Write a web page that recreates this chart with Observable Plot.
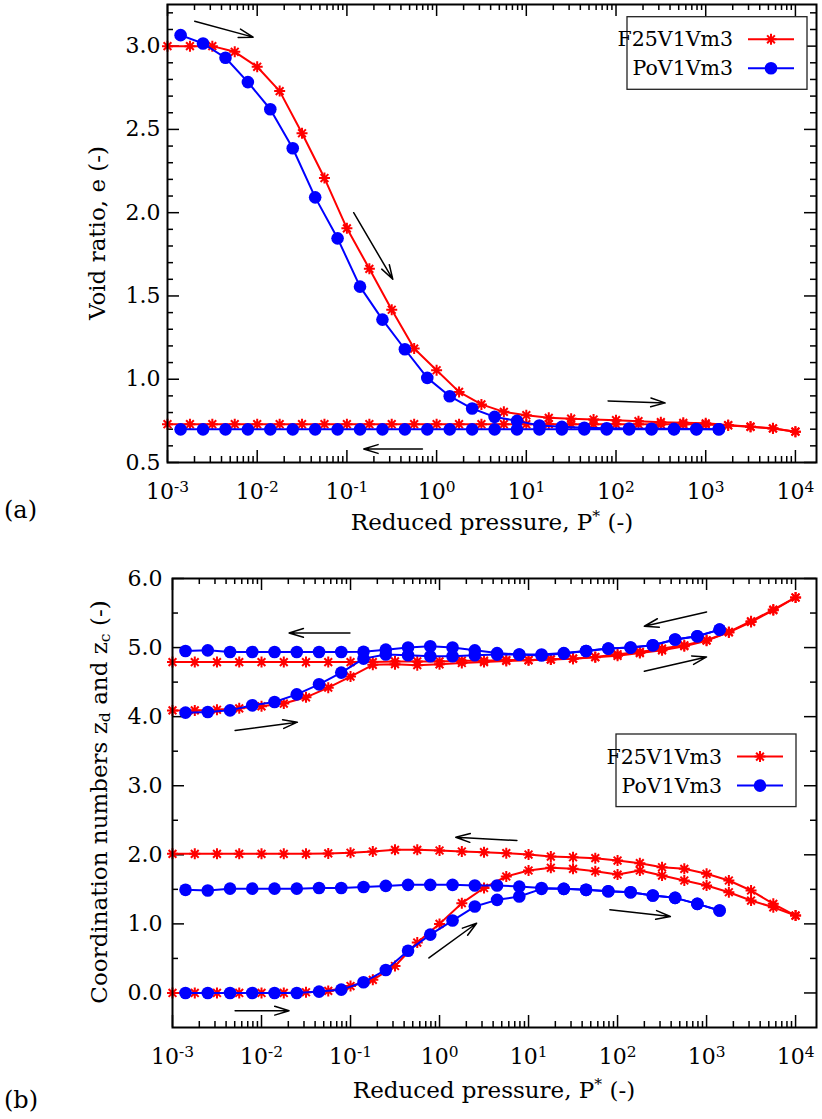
<!DOCTYPE html>
<html>
<head>
<meta charset="utf-8">
<script src="https://cdn.jsdelivr.net/npm/d3@7"></script>
<script src="https://cdn.jsdelivr.net/npm/@observablehq/plot@0.6"></script>
<style>
  body { margin: 0; background: #fff; }
  #root { position: relative; width: 822px; height: 1119px; font-family: "DejaVu Serif", serif; color: #000; overflow: hidden; }
  #root svg { position: absolute; left: 0; }
  .lbl { position: absolute; white-space: nowrap; font-size: 23px; line-height: 1; transform: translate(-50%, -50%); }
  .rot { transform: translate(-50%, -50%) rotate(-90deg); }
  .lbl sup { font-size: 0.68em; vertical-align: 0.55em; line-height: 0; }
  .lbl sub { font-size: 0.68em; vertical-align: -0.25em; line-height: 0; }
  .tag { position: absolute; font-size: 24px; line-height: 1; transform: translate(0, -50%); }
</style>
</head>
<body>
<div id="root"></div>
<script>
// ---------------- data ----------------
// reduced pressure P* of the two runs
const pressureF25 = [0.001, 0.00178, 0.00316, 0.00562, 0.01, 0.0178, 0.0316, 0.0562, 0.1, 0.178, 0.316, 0.562, 1, 1.78, 3.16, 5.62, 10, 17.8, 31.6, 56.2, 100, 178, 316, 562, 1000, 1780, 3160, 5620, 10000];
const pressurePo  = [0.0014, 0.00249, 0.00443, 0.00787, 0.014, 0.0249, 0.0443, 0.0787, 0.14, 0.249, 0.443, 0.787, 1.4, 2.49, 4.43, 7.87, 14, 24.9, 44.3, 78.7, 140, 249, 443, 787, 1400];

// (a) void ratio e, loading and unloading branches
const voidF25Load   = [3.00, 3.00, 3.00, 2.966, 2.876, 2.73, 2.477, 2.208, 1.906, 1.663, 1.417, 1.184, 1.054, 0.924, 0.849, 0.804, 0.784, 0.768, 0.763, 0.758, 0.754, 0.748, 0.742, 0.738, 0.735, 0.725, 0.715, 0.705, 0.685];
const voidF25Unload = [0.730, 0.730, 0.730, 0.730, 0.730, 0.730, 0.730, 0.730, 0.730, 0.730, 0.730, 0.730, 0.730, 0.730, 0.730, 0.730, 0.730, 0.730, 0.730, 0.730, 0.730, 0.730, 0.729, 0.729, 0.728, 0.722, 0.714, 0.704, 0.685];
const voidPoLoad    = [3.066, 3.016, 2.93, 2.784, 2.621, 2.387, 2.092, 1.846, 1.556, 1.358, 1.18, 1.008, 0.898, 0.824, 0.774, 0.750, 0.722, 0.714, 0.709, 0.706, 0.704, 0.703, 0.702, 0.701, 0.700];
const voidPoUnload  = [0.699, 0.699, 0.699, 0.699, 0.699, 0.699, 0.699, 0.699, 0.699, 0.699, 0.699, 0.699, 0.699, 0.699, 0.699, 0.699, 0.699, 0.699, 0.699, 0.699, 0.699, 0.699, 0.699, 0.699, 0.700];

// (b) coordination numbers z_d (upper) and z_c (lower)
const zdF25Load   = [4.09, 4.09, 4.10, 4.12, 4.15, 4.19, 4.28, 4.42, 4.58, 4.75, 4.76, 4.745, 4.758, 4.777, 4.79, 4.806, 4.816, 4.826, 4.84, 4.864, 4.903, 4.937, 4.986, 5.033, 5.106, 5.226, 5.381, 5.55, 5.725];
const zdF25Unload = [4.79, 4.79, 4.79, 4.79, 4.79, 4.79, 4.79, 4.79, 4.79, 4.79, 4.80, 4.80, 4.80, 4.81, 4.81, 4.82, 4.82, 4.83, 4.84, 4.86, 4.88, 4.92, 4.96, 5.02, 5.10, 5.22, 5.37, 5.54, 5.725];
const zdPoLoad    = [4.058, 4.068, 4.091, 4.164, 4.212, 4.323, 4.468, 4.638, 4.84, 4.90, 4.888, 4.874, 4.874, 4.888, 4.898, 4.898, 4.885, 4.913, 4.951, 4.985, 5.0, 5.033, 5.116, 5.164, 5.26];
const zdPoUnload  = [4.951, 4.96, 4.937, 4.937, 4.937, 4.937, 4.937, 4.937, 4.94, 4.97, 5.0, 5.02, 5.0, 4.96, 4.92, 4.90, 4.90, 4.92, 4.95, 4.985, 5.0, 5.033, 5.116, 5.164, 5.26];
const zcF25Load   = [0, 0, 0, 0, 0, 0, 0.01, 0.03, 0.10, 0.19, 0.39, 0.73, 1.0, 1.30, 1.52, 1.686, 1.773, 1.812, 1.797, 1.762, 1.714, 1.773, 1.70, 1.628, 1.555, 1.458, 1.338, 1.24, 1.12];
const zcF25Unload = [2.014, 2.014, 2.014, 2.014, 2.014, 2.014, 2.014, 2.02, 2.03, 2.048, 2.072, 2.072, 2.062, 2.048, 2.038, 2.023, 2.004, 1.975, 1.965, 1.951, 1.917, 1.879, 1.82, 1.797, 1.725, 1.628, 1.483, 1.29, 1.12];
const zcPoLoad    = [0, 0, 0, 0, 0, 0, 0.02, 0.048, 0.154, 0.333, 0.61, 0.845, 1.048, 1.251, 1.348, 1.396, 1.507, 1.507, 1.493, 1.473, 1.458, 1.41, 1.377, 1.29, 1.193];
const zcPoUnload  = [1.493, 1.483, 1.51, 1.51, 1.51, 1.51, 1.52, 1.52, 1.533, 1.55, 1.565, 1.565, 1.565, 1.556, 1.556, 1.54, 1.52, 1.507, 1.493, 1.473, 1.458, 1.41, 1.377, 1.29, 1.193];

// series names and colours
const seriesNames = ["F25V1Vm3", "PoV1Vm3"];
const seriesColors = ["#ff0000", "#0000ff"];

// axis ticks
const xDecades = [1e-3, 1e-2, 1e-1, 1, 10, 100, 1000, 10000];
const xMinorMult = [2, 3, 4, 5, 6, 7, 8, 9];
const yTicksA = [0.5, 1.0, 1.5, 2.0, 2.5, 3.0];
const yTicksB = [0, 1, 2, 3, 4, 5, 6];

// direction arrows (data units)
const arrowsA = [
  {x1: 0.00201, y1: 3.15, x2: 0.00901, y2: 3.054},
  {x1: 0.119, y1: 2.0, x2: 0.325, y2: 1.60},
  {x1: 81.5, y1: 0.870, x2: 353, y2: 0.858},
  {x1: 0.695, y1: 0.581, x2: 0.154, y2: 0.581}
];
const arrowsB = [
  {x1: 0.0985, y1: 5.212, x2: 0.0204, y2: 5.212},
  {x1: 0.00505, y1: 3.80, x2: 0.0253, y2: 3.92},
  {x1: 1000, y1: 5.516, x2: 200, y2: 5.309},
  {x1: 200, y1: 4.657, x2: 1000, y2: 4.864},
  {x1: 7.4, y1: 2.207, x2: 1.52, y2: 2.255},
  {x1: 82, y1: 1.203, x2: 392, y2: 1.106},
  {x1: 0.76, y1: 0.507, x2: 2.61, y2: 1.009},
  {x1: 0.00505, y1: -0.257, x2: 0.0204, y2: -0.257}
];

// ---------------- helpers ----------------
const W = 822;
const xMax = Math.pow(10, 4.235);
const fmtPow = d => "10^" + Math.round(Math.log10(d));
const xMinor = xDecades.slice(0, -1).flatMap(d => xMinorMult.map(m => d * m)).filter(v => v < xMax);

// 8-spoke asterisk (gnuplot-like point type 3)
const asterisk8 = {
  draw(ctx, size) {
    const r = Math.sqrt(size / Math.PI);
    const q = r * Math.SQRT1_2;
    ctx.moveTo(-r, 0); ctx.lineTo(r, 0);
    ctx.moveTo(0, -r); ctx.lineTo(0, r);
    ctx.moveTo(-q, -q); ctx.lineTo(q, q);
    ctx.moveTo(-q, q); ctx.lineTo(q, -q);
  }
};

function rows(p, v, branch) { return p.map((x, i) => ({p: x, v: v[i], branch})); }

function panel(o) {
  const {height, marginTop, marginBottom, marginLeft, yDomain, yMajor, yMinor, red, blue, arrows, yPad} = o;
  const marginRight = 6;
  const plotH = height - marginTop - marginBottom;
  const plotW = W - marginLeft - marginRight;
  const tick = {stroke: "black", strokeWidth: 1.5};
  const svg = Plot.plot({
    width: W, height, marginTop, marginBottom, marginLeft, marginRight,
    style: {fontFamily: "DejaVu Serif", fontSize: "22px", color: "black", background: "white", overflow: "visible"},
    x: {type: "log", domain: [1e-3, xMax], label: null},
    y: {domain: yDomain, label: null},
    marks: [
      Plot.ruleX(xDecades, {...tick, insetTop: plotH - 12}),
      Plot.ruleX(xDecades, {...tick, insetBottom: plotH - 12}),
      Plot.ruleX(xMinor, {...tick, insetTop: plotH - 6}),
      Plot.ruleX(xMinor, {...tick, insetBottom: plotH - 6}),
      Plot.ruleY(yMajor, {...tick, insetRight: plotW - 12}),
      Plot.ruleY(yMajor, {...tick, insetLeft: plotW - 12}),
      Plot.ruleY(yMinor, {...tick, insetRight: plotW - 6}),
      Plot.ruleY(yMinor, {...tick, insetLeft: plotW - 6}),
      Plot.axisX({ticks: xDecades, tickFormat: fmtPow, tickSize: 0, tickPadding: 21, label: null, fontSize: 22}),
      Plot.axisY({ticks: yMajor, tickFormat: d3.format(".1f"), tickSize: 0, tickPadding: yPad, label: null, fontSize: 22}),
      Plot.line(red, {x: "p", y: "v", z: "branch", stroke: seriesColors[0], strokeWidth: 2, strokeLinejoin: "round"}),
      Plot.dot(red, {x: "p", y: "v", symbol: asterisk8, r: 5.5, stroke: seriesColors[0], strokeWidth: 2, fill: "none"}),
      Plot.line(blue, {x: "p", y: "v", z: "branch", stroke: seriesColors[1], strokeWidth: 2, strokeLinejoin: "round"}),
      Plot.dot(blue, {x: "p", y: "v", r: 6.3, fill: seriesColors[1], stroke: "none"}),
      Plot.arrow(arrows, {x1: "x1", y1: "y1", x2: "x2", y2: "y2", stroke: "black", strokeWidth: 1.5, headLength: 15, headAngle: 34}),
      Plot.frame({stroke: "black", strokeWidth: 2})
    ]
  });
  // turn "10^k" tick labels into 10 with a superscript exponent
  d3.select(svg).selectAll('g[aria-label="x-axis tick label"] text').each(function () {
    const t = this.textContent;
    if (t.indexOf("^") < 0) return;
    const [base, exp] = t.split("^");
    const sel = d3.select(this);
    sel.text(null);
    sel.append("tspan").text(base);
    sel.append("tspan").attr("dy", "-0.48em").attr("font-size", "0.7em").text(exp.replace("-", "-"));
  });
  return svg;
}

function addLegend(svg, bx, by) {
  const g = d3.select(svg).append("g").attr("font-family", "DejaVu Serif").attr("font-size", 20.5);
  g.append("rect").attr("x", bx).attr("y", by).attr("width", 180).attr("height", 72.6)
    .attr("fill", "white").attr("stroke", "#222").attr("stroke-width", 1.3);
  seriesNames.forEach((name, i) => {
    const cy = by + 22.6 + i * 29;
    g.append("text").attr("x", bx + 106).attr("y", cy).attr("dy", "0.35em").attr("text-anchor", "end").text(name);
    g.append("line").attr("x1", bx + 121).attr("x2", bx + 167).attr("y1", cy).attr("y2", cy)
      .attr("stroke", seriesColors[i]).attr("stroke-width", 2);
    if (i === 0) {
      const p = d3.path(); asterisk8.draw(p, Math.PI * 5.5 * 5.5);
      g.append("path").attr("d", p.toString()).attr("transform", `translate(${bx + 144},${cy})`)
        .attr("stroke", seriesColors[0]).attr("stroke-width", 2).attr("fill", "none");
    } else {
      g.append("circle").attr("cx", bx + 144).attr("cy", cy).attr("r", 6.3).attr("fill", seriesColors[1]);
    }
  });
}

// ---------------- build ----------------
const root = document.getElementById("root");

const redA = [...rows(pressureF25, voidF25Load, "load"), ...rows(pressureF25, voidF25Unload, "unload")];
const blueA = [...rows(pressurePo, voidPoLoad, "load"), ...rows(pressurePo, voidPoUnload, "unload")];
const yMinorA = d3.range(6, 33).map(i => i / 10).filter(v => !yTicksA.some(t => Math.abs(t - v) < 1e-9));

const svgA = panel({height: 545, marginTop: 4, marginBottom: 83, marginLeft: 167,
  yDomain: [0.5, 3.25], yMajor: yTicksA, yMinor: yMinorA, red: redA, blue: blueA, arrows: arrowsA, yPad: 7});
svgA.style.top = "0px";
root.appendChild(svgA);
addLegend(svgA, 627, 16.7);

const redB = [...rows(pressureF25, zdF25Load, "zdL"), ...rows(pressureF25, zdF25Unload, "zdU"),
              ...rows(pressureF25, zcF25Load, "zcL"), ...rows(pressureF25, zcF25Unload, "zcU")];
const blueB = [...rows(pressurePo, zdPoLoad, "zdL"), ...rows(pressurePo, zdPoUnload, "zdU"),
               ...rows(pressurePo, zcPoLoad, "zcL"), ...rows(pressurePo, zcPoUnload, "zcU")];
const yMinorB = [0.5, 1.5, 2.5, 3.5, 4.5, 5.5];

const svgB = panel({height: 574, marginTop: 33, marginBottom: 92, marginLeft: 172,
  yDomain: [-0.5, 6.0], yMajor: yTicksB, yMinor: yMinorB, red: redB, blue: blueB, arrows: arrowsB, yPad: 10});
svgB.style.top = "545px";
root.appendChild(svgB);
addLegend(svgB, 616, 189);

// axis titles and panel tags
function label(html, x, y, cls) {
  const d = document.createElement("div");
  d.className = cls; d.innerHTML = html;
  d.style.left = x + "px"; d.style.top = y + "px";
  root.appendChild(d);
}
label("Reduced pressure, P<sup>*</sup> (-)", 492, 522, "lbl");
label("Void ratio, e (-)", 97, 233, "lbl rot");
label("Reduced pressure, P<sup>*</sup> (-)", 494, 1090, "lbl");
label("Coordination numbers z<sub>d</sub> and z<sub>c</sub> (-)", 99, 802, "lbl rot");
label("(a)", 4, 510, "tag");
label("(b)", 4, 1100, "tag");
</script>
</body>
</html>
